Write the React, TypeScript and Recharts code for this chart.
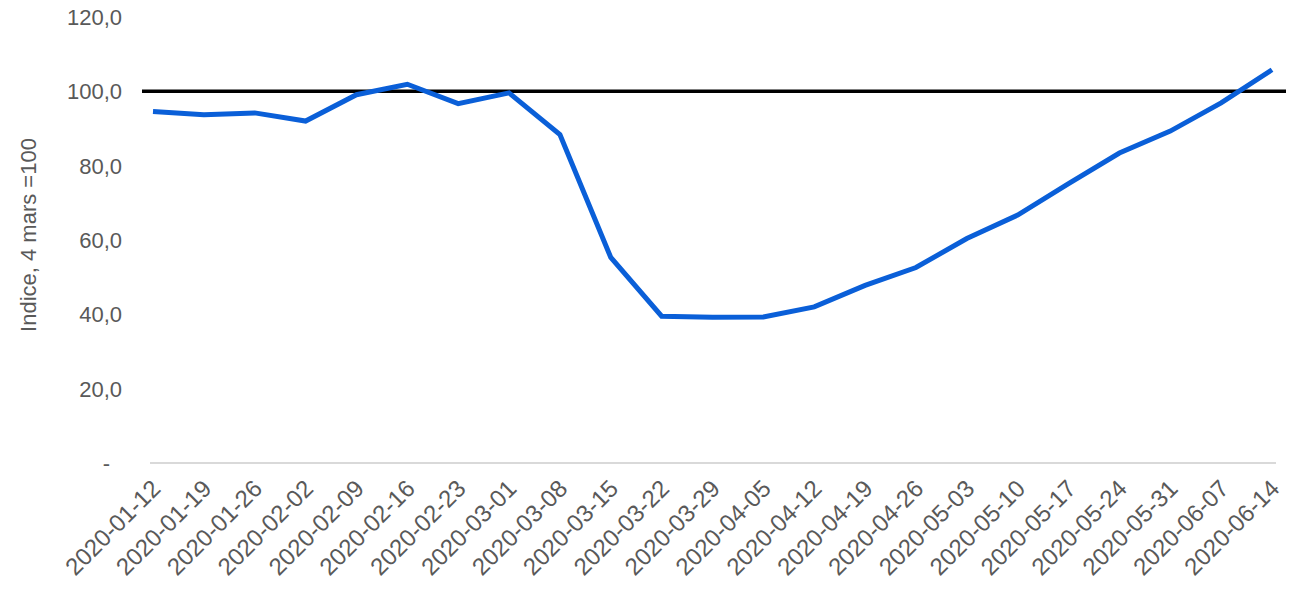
import { CartesianGrid, Line, LineChart, ReferenceLine, XAxis, YAxis } from "recharts";

const weeks = [
  "2020-01-12", "2020-01-19", "2020-01-26", "2020-02-02", "2020-02-09", "2020-02-16",
  "2020-02-23", "2020-03-01", "2020-03-08", "2020-03-15", "2020-03-22", "2020-03-29",
  "2020-04-05", "2020-04-12", "2020-04-19", "2020-04-26", "2020-05-03", "2020-05-10",
  "2020-05-17", "2020-05-24", "2020-05-31", "2020-06-07", "2020-06-14",
];
const indexValues = [
  94.6, 93.7, 94.2, 92.0, 99.1, 101.9, 96.7, 99.6, 88.4, 55.3, 39.5, 39.2,
  39.3, 42.0, 47.8, 52.6, 60.4, 66.7, 75.2, 83.4, 89.3, 96.9, 105.8,
];
const yTicks = [0, 20, 40, 60, 80, 100, 120];
const baseline = 100;
const yTitle = "Indice, 4 mars =100";

const data = weeks.map((week, i) => ({ week, value: indexValues[i] }));

const FONT = "'Liberation Sans', Arial, sans-serif";
const GREY = "#595959";

function fmt(v: number) {
  return v === 0 ? "-" : v.toFixed(1).replace(".", ",");
}

function YTick({ x, y, payload }: any) {
  const isZero = payload.value === 0;
  return (
    <text x={isZero ? x - 12 : x} y={y} dy={8} textAnchor="end" fill={GREY} fontSize={22} fontFamily={FONT}>
      {fmt(payload.value)}
    </text>
  );
}

function XTick({ x, y, payload }: any) {
  return (
    <g transform={`translate(${x + 9},${y + 19})`}>
      <text transform="rotate(-45)" textAnchor="end" fill={GREY} fontSize={24} fontFamily={FONT}>
        {payload.value}
      </text>
    </g>
  );
}

function WideRef(props: any) {
  const { x1, x2, y1, y2 } = props;
  return <line x1={x1 - 8} x2={x2 + 10} y1={y1} y2={y2} stroke="#000" strokeWidth={3.5} />;
}

export default function App() {
  return (
    <div style={{ position: "absolute", left: 0, top: 0, background: "#fff" }}>
      <LineChart width={1300} height={596} data={data} margin={{ top: 17, right: 24, bottom: 0, left: 0 }}>
        <CartesianGrid horizontal={false} vertical={false} />
        <XAxis
          dataKey="week"
          interval={0}
          height={133}
          tick={<XTick />}
          tickLine={false}
          axisLine={{ stroke: "#d9d9d9", strokeWidth: 2 }}
          padding={{ left: 3, right: 4 }}
        />
        <YAxis
          domain={[0, 120]}
          ticks={yTicks}
          width={150}
          tickSize={0}
          tickMargin={28}
          tick={<YTick />}
          axisLine={false}
          tickLine={false}
          label={({ viewBox }: any) => {
            const cy = viewBox.y + viewBox.height / 2;
            return (
              <text
                x={28}
                y={cy - 5}
                transform={`rotate(-90, 28, ${cy - 5})`}
                textAnchor="middle"
                dominantBaseline="central"
                fill={GREY}
                fontSize={22}
                fontFamily={FONT}
              >
                {yTitle}
              </text>
            );
          }}
        />
        <ReferenceLine y={baseline} shape={<WideRef />} />
        <Line
          type="linear"
          dataKey="value"
          stroke="#0a5fd8"
          strokeWidth={5}
          dot={false}
          activeDot={false}
          isAnimationActive={false}
        />
      </LineChart>
    </div>
  );
}
